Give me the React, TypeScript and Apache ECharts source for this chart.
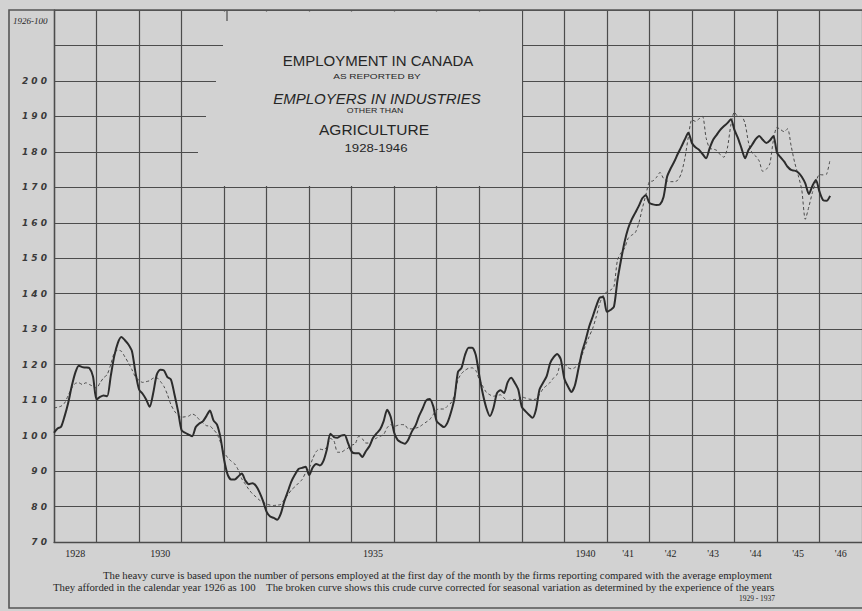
import React, { useEffect, useRef } from "react";
import * as echarts from "echarts";

// Year bands on the bottom axis (one band per calendar year, 1928 → 1946)
const yearLabels = ["1928", "", "1930", "", "", "", "", "1935", "", "", "", "", "1940", "'41", "'42", "'43", "'44", "'45", "'46"];

// Heavy curve: monthly index, 1926 = 100, first of month, Jan 1928 → Apr 1946
const heavyCurve: number[] = [
  100.8, 102.0, 102.5, 105.5, 109.2, 113.9, 117.7, 119.7, 119.3, 119.2, 119.0, 116.7, // 1928
  110.2, 110.9, 111.3, 111.1, 116.7, 122.4, 126.1, 127.8, 126.9, 125.7, 123.8, 117.7, // 1929
  113.0, 111.8, 110.2, 108.1, 112.0, 117.2, 118.6, 118.4, 116.5, 115.8, 111.6, 106.9, // 1930
  101.5, 100.8, 100.3, 99.8, 102.4, 103.4, 104.0, 105.5, 107.1, 104.3, 103.1, 99.3, // 1931
  93.2, 89.0, 87.6, 87.6, 88.5, 89.3, 87.3, 86.3, 86.6, 85.8, 84.0, 81.5, // 1932
  78.5, 77.2, 76.8, 76.3, 78.0, 81.5, 84.3, 87.1, 89.0, 90.6, 90.9, 91.2, // 1933
  88.9, 91.0, 92.0, 91.6, 92.8, 96.1, 100.5, 99.6, 99.4, 100.0, 100.2, 97.8, // 1934
  95.5, 95.0, 95.0, 94.0, 95.6, 97.0, 99.3, 100.6, 101.7, 104.0, 107.3, 105.3, // 1935
  100.8, 98.7, 98.1, 97.7, 98.9, 101.2, 102.8, 105.5, 107.6, 109.9, 110.3, 108.3, // 1936
  104.0, 103.1, 102.4, 103.6, 106.5, 110.5, 118.0, 119.1, 122.8, 124.8, 124.8, 122.8, // 1937
  117.0, 111.8, 107.8, 105.5, 107.8, 112.0, 112.8, 112.0, 115.0, 116.3, 114.9, 113.0, // 1938
  108.1, 106.9, 105.9, 105.0, 107.3, 113.0, 114.9, 116.7, 120.4, 122.1, 123.0, 121.5, // 1939
  116.1, 113.9, 112.3, 114.2, 118.9, 123.6, 126.9, 130.7, 133.5, 136.5, 138.9, 139.1, // 1940
  134.9, 135.4, 136.3, 143.8, 149.5, 154.6, 158.4, 160.9, 162.8, 164.7, 166.9, 167.8, // 1941
  165.6, 165.2, 165.0, 165.2, 167.3, 173.0, 175.3, 177.2, 179.4, 181.4, 183.5, 185.4, // 1942
  182.5, 181.3, 180.6, 179.4, 178.2, 181.0, 183.4, 184.8, 186.2, 187.2, 188.1, 189.2, // 1943
  186.2, 183.9, 181.0, 178.2, 180.6, 182.0, 183.6, 184.5, 183.4, 182.5, 183.2, 184.5, // 1944
  179.8, 178.5, 177.3, 175.8, 174.9, 174.7, 174.2, 173.0, 171.1, 168.1, 170.4, 172.1, // 1945
  168.8, 166.4, 166.2, 167.6, // 1946
];

// Broken curve: the same series corrected for seasonal variation
const brokenCurve: number[] = [
  107.8, 108.0, 108.3, 109.2, 111.3, 113.4, 114.7, 114.9, 114.4, 114.9, 114.4, 113.9, // 1928
  113.4, 114.9, 116.3, 117.2, 120.0, 123.3, 124.1, 123.8, 122.2, 120.5, 118.6, 116.5, // 1929
  115.6, 115.0, 115.2, 115.5, 116.2, 116.3, 115.3, 113.9, 111.6, 108.7, 106.9, 105.7, // 1930
  105.2, 105.3, 105.5, 106.1, 105.6, 104.5, 103.6, 102.8, 102.7, 101.7, 100.5, 98.0, // 1931
  95.3, 93.8, 92.8, 92.0, 90.3, 87.8, 86.3, 84.8, 83.6, 82.7, 81.8, 81.2, // 1932
  80.7, 80.4, 80.3, 80.4, 80.6, 82.0, 83.3, 84.7, 85.6, 86.6, 87.6, 89.5, // 1933
  90.8, 93.5, 95.5, 96.2, 96.0, 96.8, 99.2, 98.5, 95.3, 95.3, 95.9, 96.5, // 1934
  97.3, 97.7, 99.8, 99.1, 97.9, 97.9, 98.7, 99.3, 99.8, 100.3, 102.2, 103.1, // 1935
  102.6, 102.9, 103.1, 103.0, 101.9, 101.9, 102.1, 102.4, 103.1, 103.8, 104.5, 105.9, // 1936
  107.3, 107.5, 107.5, 108.3, 109.2, 111.3, 115.8, 117.5, 118.4, 119.0, 119.1, 118.4, // 1937
  115.8, 113.9, 112.2, 111.5, 111.1, 111.3, 111.5, 110.6, 109.9, 110.0, 110.2, 110.2, // 1938
  110.9, 110.6, 110.3, 110.2, 110.3, 111.6, 113.2, 114.1, 115.0, 116.3, 117.3, 120.2, // 1939
  120.2, 119.2, 118.8, 119.2, 120.3, 122.7, 125.5, 127.9, 130.2, 133.5, 137.3, 139.6, // 1940
  140.5, 141.0, 142.0, 149.5, 151.5, 152.8, 155.6, 156.5, 157.2, 159.8, 164.0, 167.8, // 1941
  171.6, 171.8, 172.8, 174.2, 172.5, 171.8, 171.6, 171.6, 172.0, 173.9, 178.1, 184.2, // 1942
  189.1, 188.6, 189.3, 190.0, 184.0, 181.0, 180.8, 180.4, 179.2, 178.5, 181.0, 187.6, // 1943
  191.2, 190.0, 190.0, 188.0, 182.5, 179.7, 178.8, 177.4, 174.5, 175.1, 176.7, 183.3, // 1944
  186.9, 186.3, 185.7, 186.5, 181.7, 177.0, 173.4, 169.3, 161.0, 164.5, 168.5, 171.6, // 1945
  173.6, 173.5, 173.7, 177.9, // 1946
];

const titleLines = ["EMPLOYMENT IN CANADA", "AS REPORTED BY", "EMPLOYERS IN INDUSTRIES", "OTHER THAN", "AGRICULTURE", "1928-1946"];
const footnoteLines = [
  "The heavy curve is based upon the number of persons employed at the first day of the month by the firms reporting compared with the average employment",
  "They afforded in the calendar year 1926 as 100    The broken curve shows this crude curve corrected for seasonal variation as determined by the experience of the years",
  "1929 - 1937",
];
const baseLabel = "1926-100";

const BG = "#d2d2d2";
const INK = "#262626";
const GRID = "#4c4c4c";

export default function App() {
  const ref = useRef<HTMLDivElement>(null);
  useEffect(() => {
    if (!ref.current) return;
    const chart = echarts.init(ref.current, null, { renderer: "svg" });
    const blank = (x: number, y: number, w: number, h: number) => ({
      type: "rect",
      z: 1,
      shape: { x, y, width: w, height: h },
      style: { fill: BG, stroke: null },
      silent: true,
    });
    const txt = (text: string, x: number, y: number, size: number, opts: any = {}) => ({
      type: "text",
      z: 10,
      x,
      y,
      scaleX: opts.scaleX ?? 1,
      style: {
        text,
        fill: INK,
        fontSize: size,
        fontFamily: opts.family ?? "Liberation Sans",
        fontStyle: opts.italic ? "italic" : "normal",
        fontWeight: opts.weight ?? "normal",
        align: opts.align ?? "center",
        verticalAlign: "middle",
      },
      silent: true,
    });
    chart.setOption({
      animation: false,
      backgroundColor: BG,
      grid: { left: 54, top: 10, width: 811, height: 532 },
      xAxis: [
        {
          type: "value",
          min: 0,
          max: 228,
          interval: 12,
          axisLine: { show: true, onZero: false, lineStyle: { color: GRID, width: 1.4 } },
          axisTick: { show: false },
          axisLabel: { show: false },
          splitLine: { show: true, lineStyle: { color: GRID, width: 1.2 } },
        },
        {
          type: "category",
          data: yearLabels,
          position: "bottom",
          boundaryGap: true,
          axisLine: { show: false },
          axisTick: { show: false },
          splitLine: { show: false },
          axisLabel: { interval: 0, margin: 6, fontSize: 10, fontFamily: "Liberation Serif", color: INK },
        },
      ],
      yAxis: {
        type: "value",
        min: 70,
        max: 220,
        interval: 10,
        axisLine: { show: true, lineStyle: { color: GRID, width: 1.4 } },
        axisTick: { show: false },
        axisLabel: {
          margin: 7,
          fontSize: 9,
          fontStyle: "italic",
          fontWeight: "bold",
          fontFamily: "DejaVu Sans",
          color: "#3a3a3a",
          formatter: (v: number) => (v > 200 ? "" : String(v).split("").join(" ")),
        },
        splitLine: { show: true, lineStyle: { color: GRID, width: 1.2 } },
      },
      series: [
        {
          name: "Heavy curve",
          type: "line",
          xAxisIndex: 0,
          data: heavyCurve.map((v, i) => [i, v]),
          symbol: "none",
          smooth: 0.25,
          z: 4,
          lineStyle: { color: "#2c2c2c", width: 2 },
        },
        {
          name: "Broken curve",
          type: "line",
          xAxisIndex: 0,
          data: brokenCurve.map((v, i) => [i, v]),
          symbol: "none",
          smooth: 0.25,
          z: 3,
          lineStyle: { color: "#4a4a4a", width: 1, type: [3, 2.5] },
        },
      ],
      graphic: [
        blank(223, 11.5, 299, 53),
        blank(216, 64, 306, 36),
        blank(206, 100, 316, 35),
        blank(198, 135, 324, 51),
        {
          type: "line",
          z: 2,
          shape: { x1: 227, y1: 11, x2: 227, y2: 21 },
          style: { stroke: GRID, lineWidth: 1.2 },
        },
        {
          type: "rect",
          z: 2,
          shape: { x: 9, y: 10, width: 900, height: 598 },
          style: { fill: null, stroke: "#555", lineWidth: 1.6 },
          silent: true,
        },
        txt(titleLines[0], 378, 60, 15),
        txt(titleLines[1], 377, 76, 8, { scaleX: 1.25 }),
        txt(titleLines[2], 377, 98, 15, { italic: true }),
        txt(titleLines[3], 375, 111, 7, { scaleX: 1.25 }),
        txt(titleLines[4], 374, 129, 15.5),
        txt(titleLines[5], 376, 148, 11, { scaleX: 1.2 }),
        txt(baseLabel, 13, 21, 9, { align: "left", italic: true, family: "Liberation Serif" }),
        txt(footnoteLines[0], 103, 575, 11, { align: "left", family: "Liberation Serif", scaleX: 0.976 }),
        txt(footnoteLines[1], 53, 587, 11, { align: "left", family: "Liberation Serif", scaleX: 0.978 }),
        txt(footnoteLines[2], 757, 598, 7.5, { family: "Liberation Serif" }),
      ],
    });
    return () => chart.dispose();
  }, []);
  return (
    <div
      ref={ref}
      style={{ position: "absolute", left: 0, top: 0, width: 862, height: 611, background: BG }}
    />
  );
}
